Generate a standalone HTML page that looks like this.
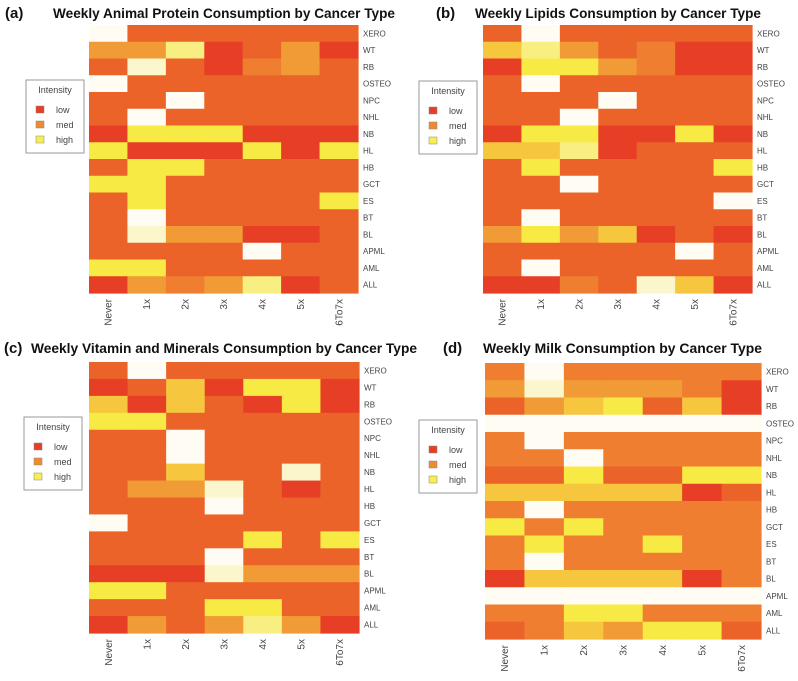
<!DOCTYPE html>
<html><head><meta charset="utf-8"><style>
html,body{margin:0;padding:0;background:#fff;}
svg{display:block;font-family:"Liberation Sans",sans-serif;}
</style></head><body>
<svg id="chart" width="798" height="681" viewBox="0 0 798 681" xmlns="http://www.w3.org/2000/svg"></svg>
<script>
// Shared categories
const columns = ["Never","1x","2x","3x","4x","5x","6To7x"];
const rowsLabels = ["XERO","WT","RB","OSTEO","NPC","NHL","NB","HL","HB","GCT","ES","BT","BL","APML","AML","ALL"];
// intensity levels: 1=low(red) ... 8=very high(pale), 0=no data (white)
const proteinValues = [
 [0,2,2,2,2,2,2],[4,4,7,1,2,4,1],[2,8,2,1,3,4,2],[0,2,2,2,2,2,2],[2,2,0,2,2,2,2],
 [2,0,2,2,2,2,2],[1,6,6,6,1,1,1],[6,1,1,1,6,1,6],[2,6,6,2,2,2,2],[6,6,2,2,2,2,2],
 [2,6,2,2,2,2,6],[2,0,2,2,2,2,2],[2,8,4,4,1,1,2],[2,2,2,2,0,2,2],[6,6,2,2,2,2,2],[1,4,3,4,7,1,2]];
const lipidsValues = [
 [2,0,2,2,2,2,2],[5,7,4,2,3,1,1],[1,6,6,4,3,1,1],[2,0,2,2,2,2,2],[2,2,2,0,2,2,2],
 [2,2,0,2,2,2,2],[1,6,6,1,1,6,1],[5,5,7,1,2,2,2],[2,6,2,2,2,2,6],[2,2,0,2,2,2,2],
 [2,2,2,2,2,2,0],[2,0,2,2,2,2,2],[4,6,4,5,1,2,1],[2,2,2,2,2,0,2],[2,0,2,2,2,2,2],[1,1,3,2,8,5,1]];
const vitaminValues = [
 [2,0,2,2,2,2,2],[1,2,5,1,6,6,1],[5,1,5,2,1,6,1],[6,6,2,2,2,2,2],[2,2,0,2,2,2,2],
 [2,2,0,2,2,2,2],[2,2,5,2,2,8,2],[2,4,4,8,2,1,2],[2,2,2,0,2,2,2],[0,2,2,2,2,2,2],
 [2,2,2,2,6,2,6],[2,2,2,0,2,2,2],[1,1,1,8,4,4,4],[6,6,2,2,2,2,2],[2,2,2,6,6,2,2],[1,4,2,4,7,4,1]];
const milkValues = [
 [3,0,3,3,3,3,3],[4,8,4,4,4,3,1],[2,4,5,6,2,5,1],[0,0,0,0,0,0,0],[3,0,3,3,3,3,3],
 [3,3,0,3,3,3,3],[2,2,6,2,2,6,6],[5,5,5,5,5,1,2],[3,0,3,3,3,3,3],[6,3,6,3,3,3,3],
 [3,6,3,3,6,3,3],[3,0,3,3,3,3,3],[1,5,5,5,5,1,3],[0,0,0,0,0,0,0],[3,3,6,6,3,3,3],[2,3,5,4,6,6,2]];
const legendLabels = ["low","med","high"];

const palette = ["#fffcf4","#e63f25","#eb6328","#ef7e30","#f09b36","#f5c63e","#f8ea45","#f9ee82","#fbf6cc"];
const legendColors = ["#e63f25","#ef8a33","#f8ee50"];

const panels = [
 {id:"a",tag:"(a)",title:"Weekly Animal Protein Consumption by Cancer Type",values:proteinValues,x0:89,x1:358,y0:25,y1:293,tagX:5,titleX:53,titleW:342,titleY:18,leg:[26,80]},
 {id:"b",tag:"(b)",title:"Weekly Lipids Consumption by Cancer Type",values:lipidsValues,x0:483,x1:752,y0:25,y1:293,tagX:436,titleX:475,titleW:286,titleY:18,leg:[419,81]},
 {id:"c",tag:"(c)",title:"Weekly Vitamin and Minerals Consumption by Cancer Type",values:vitaminValues,x0:89,x1:359,y0:362,y1:633,tagX:4,titleX:31,titleW:386,titleY:353,leg:[24,417]},
 {id:"d",tag:"(d)",title:"Weekly Milk Consumption by Cancer Type",values:milkValues,x0:485,x1:761,y0:363,y1:639,tagX:443,titleX:483,titleW:279,titleY:353,leg:[419,420]}
];
const NS="http://www.w3.org/2000/svg";
const svg=document.getElementById('chart');
function mk(tag,attrs,parent){const e=document.createElementNS(NS,tag);for(const k in attrs)e.setAttribute(k,attrs[k]);(parent||svg).appendChild(e);return e;}

panels.forEach(p=>{
  const g=mk('g',{});
  
  
  const nR=rowsLabels.length, nC=columns.length;
  const cw=(p.x1-p.x0)/nC, rh=(p.y1-p.y0)/nR;
  const xs=c=>p.x0+c*cw, ys=r=>p.y0+r*rh;
  const t1=mk('text',{x:p.tagX,y:p.titleY,'font-size':15,'font-weight':'bold',fill:'#111'},g);t1.textContent=p.tag;
  
  
  const t2=mk('text',{x:p.titleX,y:p.titleY,'font-size':14,'font-weight':'bold',fill:'#111',textLength:p.titleW,lengthAdjust:'spacingAndGlyphs'},g);t2.textContent=p.title;
  
  
  p.values.forEach((row,r)=>row.forEach((v,c)=>{
    const rc=mk('rect',{x:xs(c).toFixed(2),y:ys(r).toFixed(2),width:(cw+0.6).toFixed(2),height:(rh+0.6).toFixed(2),fill:palette[v]},g);
    
    
  }));
  rowsLabels.forEach((l,r)=>{
    const t=mk('text',{x:p.x1+5,y:(ys(r)+rh/2+3).toFixed(1),'font-size':8,fill:'#444'},g);t.textContent=l;
    
    
  });
  columns.forEach((l,c)=>{
    const cx=xs(c)+cw/2+3.5, cy=p.y1+6;
    const t=mk('text',{x:cx,y:cy,'font-size':10,fill:'#444','text-anchor':'end',transform:`rotate(-90 ${cx} ${cy})`},g);t.textContent=l;
    
    
  });
  const [lx,ly]=p.leg;
  const lg=mk('g',{},g);
  
  
  mk('rect',{x:lx,y:ly,width:58,height:73,fill:'#fff',stroke:'#999','stroke-width':1},lg);
  const lt=mk('text',{x:lx+29,y:ly+13,'font-size':9,fill:'#444','text-anchor':'middle'},lg);lt.textContent="Intensity";
  legendLabels.forEach((l,i)=>{
    const sw=mk('rect',{x:lx+10,y:ly+26+i*15,width:8,height:7,fill:legendColors[i],stroke:'#888','stroke-width':0.5},lg);
    
    
    const tt=mk('text',{x:lx+30,y:ly+33+i*15,'font-size':9,fill:'#444'},lg);tt.textContent=l;
    
    
  });
});
</script>
</body></html>
